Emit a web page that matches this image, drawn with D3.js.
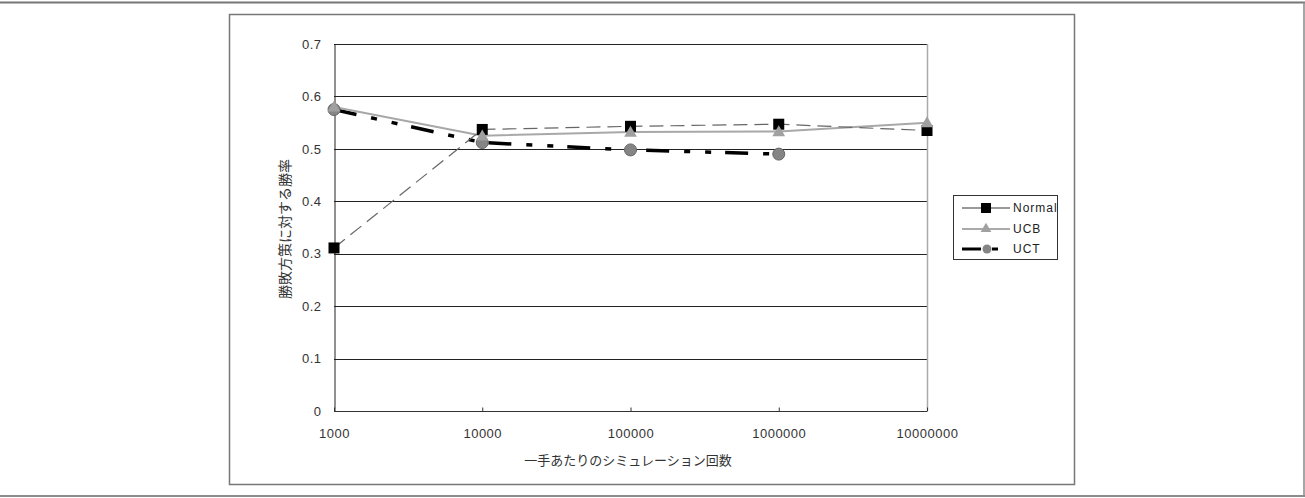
<!DOCTYPE html>
<html><head><meta charset="utf-8">
<script src="https://cdn.jsdelivr.net/npm/d3@7"></script>
<style>body{margin:0;background:#fff;}svg{display:block;}</style>
</head><body>
<script>
const categories = ["1000","10000","100000","1000000","10000000"];
const normalValues = [0.311, 0.537, 0.543, 0.547, 0.535];
const ucbValues = [0.580, 0.525, 0.532, 0.533, 0.550];
const uctValues = [0.575, 0.512, 0.498, 0.490, null];
const yTicks = [0, 0.1, 0.2, 0.3, 0.4, 0.5, 0.6, 0.7];
const seriesNames = ["Normal", "UCB", "UCT"];
const yTitle = "勝敗方策に対する勝率";
const xTitle = "一手あたりのシミュレーション回数";

const W = 1305, H = 498;
const svg = d3.select("body").append("svg").attr("width", W).attr("height", H);
const font = "Arial, 'Liberation Sans', 'Noto Sans CJK JP', sans-serif";

// page frame
svg.append("line").attr("x1",0).attr("x2",W).attr("y1",2.5).attr("y2",2.5).attr("stroke","#777").attr("stroke-width",2);
svg.append("line").attr("x1",0).attr("x2",W).attr("y1",496).attr("y2",496).attr("stroke","#666").attr("stroke-width",1.5);
svg.append("line").attr("x1",1304).attr("x2",1304).attr("y1",2).attr("y2",497).attr("stroke","#888").attr("stroke-width",1.5);

// chart frame
svg.append("rect").attr("x",229.5).attr("y",14.5).attr("width",845).attr("height",470)
  .attr("fill","#fff").attr("stroke","#777").attr("stroke-width",1.5);

const x = d3.scalePoint().domain(categories).range([334, 927]);
const y = d3.scaleLinear().domain([0, 0.7]).range([411, 44]);

const g = svg.append("g");
// gridlines
g.selectAll(".grid").data(yTicks.filter(d=>d>0)).enter().append("line")
  .attr("x1",334).attr("x2",927).attr("y1",d=>Math.round(y(d))+0.5).attr("y2",d=>Math.round(y(d))+0.5)
  .attr("stroke","#222").attr("stroke-width",1);
// right border
g.append("line").attr("x1",927.5).attr("x2",927.5).attr("y1",44).attr("y2",411).attr("stroke","#aaa").attr("stroke-width",1.5);

// y axis
const yAxis = d3.axisLeft(y).tickValues(yTicks).tickSize(0).tickPadding(13).tickFormat(d=>d===0?"0":d3.format(".1f")(d));
const ya = g.append("g").attr("transform","translate(334.5,0)").call(yAxis);
ya.select(".domain").attr("stroke","#222");
ya.selectAll("text").attr("font-family",font).attr("font-size",13).attr("letter-spacing",0.5).attr("fill","#333");

// x axis
const xAxis = d3.axisBottom(x).tickSize(-4).tickPadding(17);
const xa = g.append("g").attr("transform","translate(0,411.5)").call(xAxis);
xa.select(".domain").attr("stroke","#333").attr("d","M334,0H927");
xa.selectAll(".tick line").attr("stroke","#333");
xa.selectAll("text").attr("font-family",font).attr("font-size",13).attr("letter-spacing",0.5).attr("fill","#333");

// titles
svg.append("text").attr("transform","translate(285,229) rotate(-90)").attr("text-anchor","middle")
  .attr("dominant-baseline","central")
  .attr("font-family",font).attr("font-size",14).attr("fill","#333").text(yTitle);
svg.append("text").attr("x",628).attr("y",465).attr("text-anchor","middle")
  .attr("font-family",font).attr("font-size",13).attr("fill","#333").text(xTitle);

const line = d3.line().defined(d=>d.v!=null).x(d=>x(d.c)).y(d=>y(d.v));
const pts = vals => categories.map((c,i)=>({c, v: vals[i]}));

// UCT line
g.append("path").datum(pts(uctValues)).attr("d",line).attr("fill","none")
  .attr("stroke","#000").attr("stroke-width",3.5).attr("stroke-dasharray","23,15,6,15,6,14");
// UCB line
g.append("path").datum(pts(ucbValues)).attr("d",line).attr("fill","none")
  .attr("stroke","#a8a8a8").attr("stroke-width",2);
// Normal line
g.append("path").datum(pts(normalValues)).attr("d",line).attr("fill","none")
  .attr("stroke","#666").attr("stroke-width",1.2).attr("stroke-dasharray","14,7");

// markers
g.selectAll(".uctm").data(pts(uctValues).filter(d=>d.v!=null)).enter().append("circle")
  .attr("cx",d=>x(d.c)).attr("cy",d=>y(d.v)).attr("r",6).attr("fill","#858585").attr("stroke","#666").attr("stroke-width",1);
g.selectAll(".nm").data(pts(normalValues)).enter().append("rect")
  .attr("x",d=>x(d.c)-5.5).attr("y",d=>y(d.v)-5.5).attr("width",11).attr("height",11).attr("fill","#000");
const tri = d3.symbol().type(d3.symbolTriangle).size(70);
g.selectAll(".um").data(pts(ucbValues)).enter().append("path")
  .attr("transform",d=>`translate(${x(d.c)},${y(d.v)+1})`).attr("d",tri).attr("fill","#a0a0a0");

// legend
const lg = svg.append("g");
lg.append("rect").attr("x",953.5).attr("y",195.5).attr("width",104).attr("height",64).attr("fill","#fff").attr("stroke","#333").attr("stroke-width",1);
const ly = [208, 229, 249];
// Normal
lg.append("line").attr("x1",962).attr("x2",1010).attr("y1",ly[0]).attr("y2",ly[0]).attr("stroke","#999").attr("stroke-width",2);
lg.append("rect").attr("x",981).attr("y",ly[0]-5).attr("width",10).attr("height",10).attr("fill","#000");
// UCB
lg.append("line").attr("x1",962).attr("x2",1010).attr("y1",ly[1]).attr("y2",ly[1]).attr("stroke","#aaa").attr("stroke-width",2);
lg.append("path").attr("transform",`translate(986,${ly[1]})`).attr("d",d3.symbol().type(d3.symbolTriangle).size(50)).attr("fill","#a0a0a0");
// UCT
lg.append("line").attr("x1",962).attr("x2",1010).attr("y1",ly[2]).attr("y2",ly[2]).attr("stroke","#000").attr("stroke-width",3).attr("stroke-dasharray","19,11,6,20");
lg.append("circle").attr("cx",987).attr("cy",ly[2]).attr("r",4.5).attr("fill","#858585");
lg.selectAll(".lt").data(seriesNames).enter().append("text")
  .attr("x",1013).attr("y",(d,i)=>ly[i]+4).attr("font-family",font).attr("font-size",12).attr("fill","#222")
  .attr("letter-spacing",1).text(d=>d);
</script>
</body></html>
